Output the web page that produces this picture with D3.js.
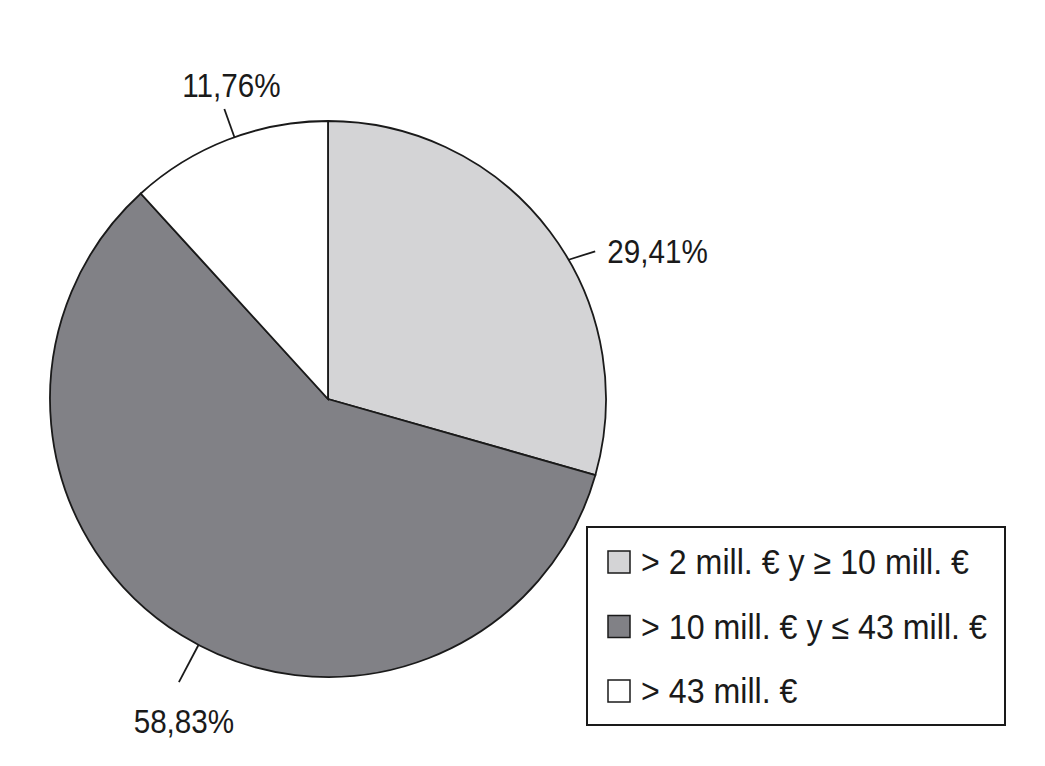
<!DOCTYPE html>
<html><head><meta charset="utf-8">
<script src="https://cdn.jsdelivr.net/npm/d3@7"></script>
<style>body{margin:0;background:#fff}svg{display:block}</style>
</head><body>
<svg id="chart" width="1045" height="766"></svg>
<script>
const categories = ["> 2 mill. € y ≥ 10 mill. €", "> 10 mill. € y ≤ 43 mill. €", "> 43 mill. €"];
const values = [29.41, 58.83, 11.76];
const valueLabels = ["29,41%", "58,83%", "11,76%"];
const colors = ["#d4d4d6", "#818186", "#ffffff"];

const svg = d3.select("#chart");
const font = "'Liberation Sans', Arial, sans-serif";
const cx = 328, cy = 399, r = 278;

function condensedText(parent, x, y, str, size, sx, anchor) {
  return parent.append("g").attr("transform", `translate(${x},${y}) scale(${sx},1)`)
    .append("text").attr("text-anchor", anchor || "start")
    .attr("font-family", font).attr("font-size", size).attr("fill", "#1a1a1a")
    .text(str);
}

const pie = d3.pie().sort(null).value(d => d)(values);
const arc = d3.arc().innerRadius(0).outerRadius(r);
const g = svg.append("g").attr("transform", `translate(${cx},${cy})`);
g.selectAll("path").data(pie).join("path")
  .attr("d", arc).attr("fill", (d, i) => colors[i])
  .attr("stroke", "#1a1a1a").attr("stroke-width", 1.8);

// leader lines & labels (layout tweaks only)
const leaderAngleShift = [7, -4, 1.5]; // degrees
const leaderLen = [28, 42, 30];
const labelPos = [
  {dx: 12, dy: 12, anchor: "start"},
  {dx: 5, dy: 51, anchor: "middle"},
  {dx: 7, dy: -12, anchor: "middle"}
];
pie.forEach((d, i) => {
  const a = (d.startAngle + d.endAngle) / 2 + leaderAngleShift[i] * Math.PI / 180;
  const x1 = r * Math.sin(a), y1 = -r * Math.cos(a);
  let x2, y2;
  if (i === 0) { x2 = x1 + leaderLen[i] * 0.95; y2 = y1 - leaderLen[i] * 0.3; }
  else { x2 = (r + leaderLen[i]) * Math.sin(a); y2 = -(r + leaderLen[i]) * Math.cos(a); }
  g.append("line").attr("x1", x1).attr("y1", y1).attr("x2", x2).attr("y2", y2)
    .attr("stroke", "#1a1a1a").attr("stroke-width", 1.8);
  condensedText(g, x2 + labelPos[i].dx, y2 + labelPos[i].dy, valueLabels[i], 33.5, 0.885, labelPos[i].anchor);
});

// legend
const lg = svg.append("g").attr("transform", "translate(587,527)");
lg.append("rect").attr("width", 418).attr("height", 198)
  .attr("fill", "#fff").attr("stroke", "#1a1a1a").attr("stroke-width", 2);
const rowY = d3.scalePoint().domain(categories).range([35, 164]);
categories.forEach((c, i) => {
  const y = rowY(c);
  lg.append("rect").attr("x", 21).attr("y", y - 11).attr("width", 22).attr("height", 22)
    .attr("fill", colors[i]).attr("stroke", "#1a1a1a").attr("stroke-width", 1.5);
  condensedText(lg, 54, y + 12, c, 35, 0.92, "start");
});
</script>
</body></html>
